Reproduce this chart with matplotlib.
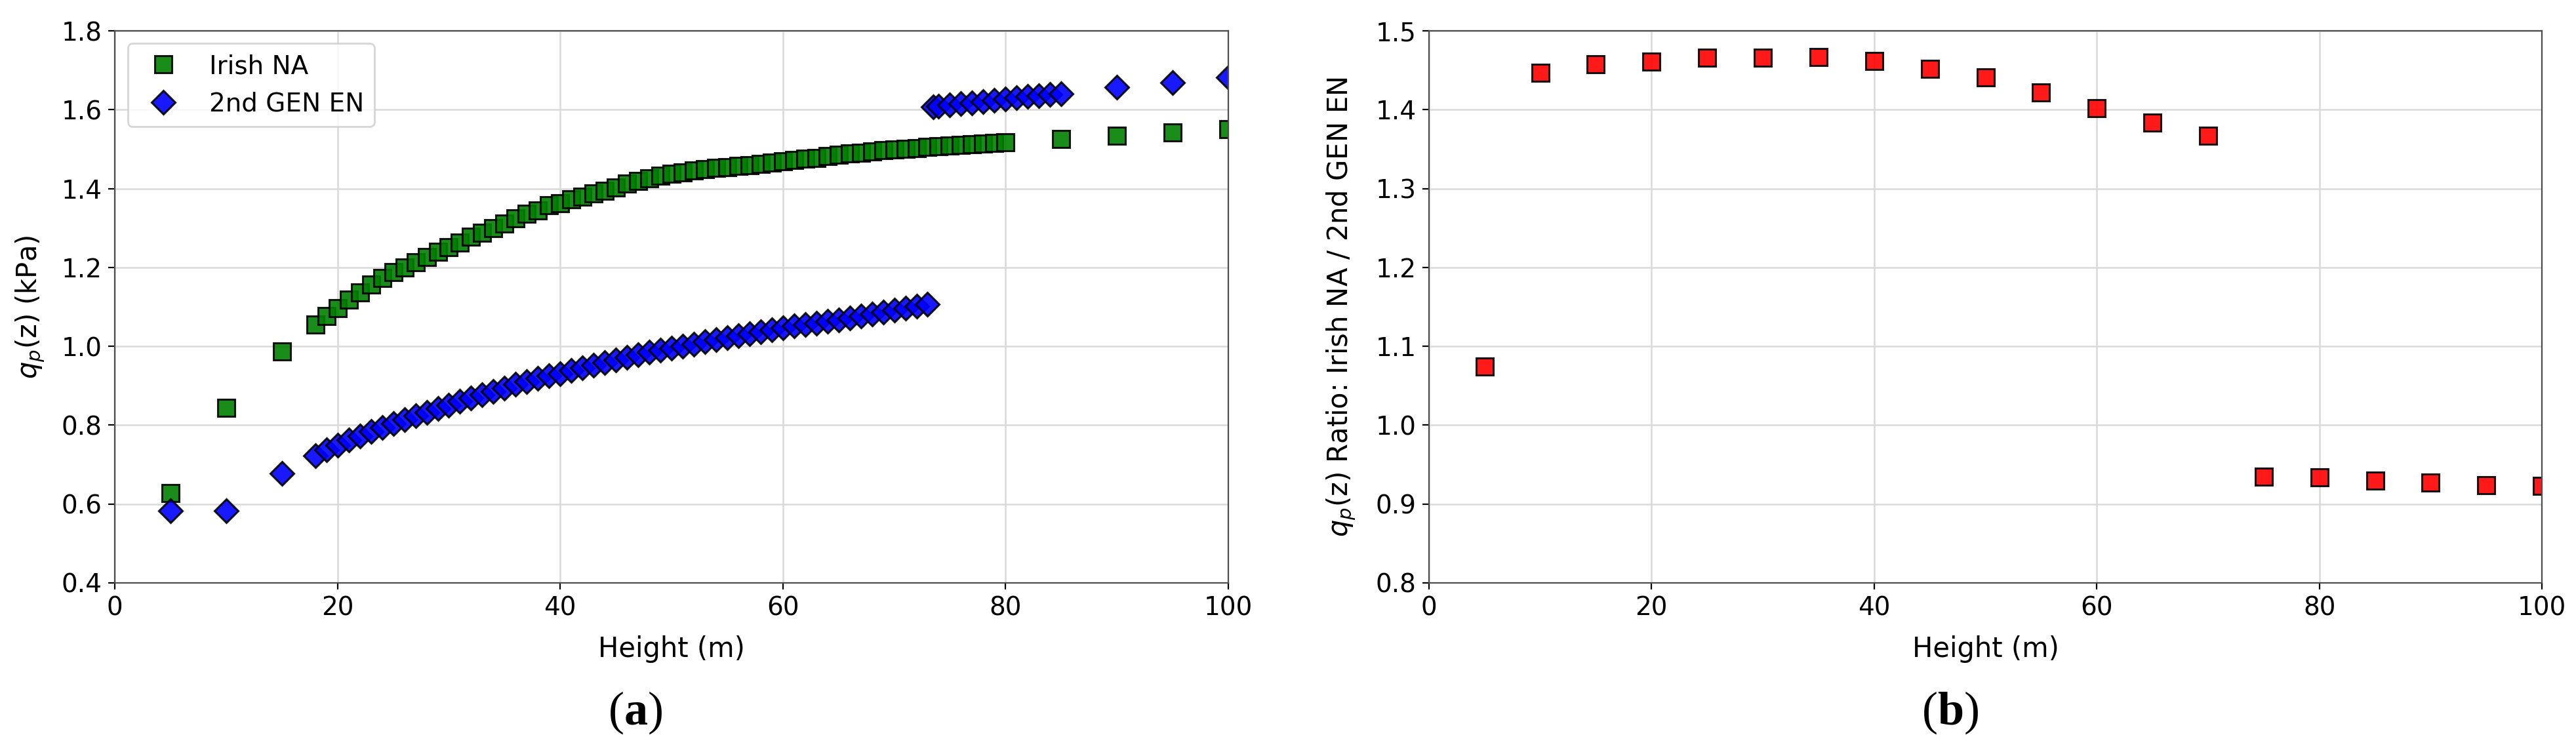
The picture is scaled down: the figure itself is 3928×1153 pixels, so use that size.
import matplotlib.pyplot as plt

# Panel (a): peak velocity pressure vs height
irish_height = [5, 10, 15,
                18, 19, 20, 21, 22, 23, 24, 25, 26, 27, 28, 29, 30, 31, 32, 33, 34, 35,
                36, 37, 38, 39, 40, 41, 42, 43, 44, 45, 46, 47, 48, 49, 50, 51, 52, 53,
                54, 55, 56, 57, 58, 59, 60, 61, 62, 63, 64, 65, 66, 67, 68, 69, 70, 71,
                72, 73, 74, 75, 76, 77, 78, 79, 80,
                85, 90, 95, 100]
irish_qp = [0.628, 0.844, 0.987,
            1.055, 1.076, 1.097, 1.118, 1.137, 1.156, 1.173, 1.188, 1.200, 1.213, 1.226,
            1.240, 1.251, 1.263, 1.278, 1.288, 1.300, 1.312, 1.325, 1.336, 1.345, 1.358,
            1.362, 1.372, 1.380, 1.388, 1.395, 1.402, 1.412, 1.420, 1.426, 1.432, 1.437,
            1.441, 1.446, 1.449, 1.452, 1.455, 1.458, 1.460, 1.463, 1.466, 1.469, 1.472,
            1.475, 1.478, 1.482, 1.486, 1.489, 1.491, 1.494, 1.497, 1.499, 1.501, 1.503,
            1.505, 1.507, 1.509, 1.511, 1.512, 1.514, 1.516, 1.518,
            1.526, 1.534, 1.542, 1.551]

gen2_height = [5, 10, 15,
               18, 19, 20, 21, 22, 23, 24, 25, 26, 27, 28, 29, 30, 31, 32, 33, 34, 35,
               36, 37, 38, 39, 40, 41, 42, 43, 44, 45, 46, 47, 48, 49, 50, 51, 52, 53,
               54, 55, 56, 57, 58, 59, 60, 61, 62, 63, 64, 65, 66, 67, 68, 69, 70, 71,
               72, 73,
               73.5, 74, 75, 76, 77, 78, 79, 80, 81, 82, 83, 84, 85,
               90, 95, 100]
gen2_qp = [0.583, 0.583, 0.678,
           0.722, 0.737, 0.749, 0.762, 0.773, 0.784, 0.794, 0.804, 0.814, 0.824, 0.833,
           0.842, 0.851, 0.860, 0.869, 0.877, 0.885, 0.894, 0.903, 0.911, 0.918, 0.925,
           0.930, 0.938, 0.945, 0.952, 0.959, 0.966, 0.972, 0.978, 0.985, 0.991, 0.996,
           1.001, 1.006, 1.012, 1.017, 1.022, 1.027, 1.031, 1.036, 1.042, 1.047, 1.051,
           1.055, 1.059, 1.063, 1.067, 1.072, 1.077, 1.082, 1.087, 1.092, 1.097, 1.102,
           1.107,
           1.607, 1.609, 1.612, 1.615, 1.617, 1.620, 1.623, 1.627, 1.630, 1.633, 1.636,
           1.638, 1.640,
           1.657, 1.669, 1.682]

# Panel (b): ratio Irish NA / 2nd GEN EN
ratio_height = [5, 10, 15, 20, 25, 30, 35, 40, 45, 50, 55, 60, 65, 70, 75, 80, 85, 90, 95, 100]
ratio_value = [1.074, 1.447, 1.458, 1.461, 1.466, 1.466, 1.467, 1.462, 1.452, 1.441,
               1.422, 1.402, 1.384, 1.367, 0.935, 0.934, 0.930, 0.927, 0.924, 0.923]

plt.rcParams["font.family"] = "DejaVu Sans"
plt.rcParams["mathtext.fontset"] = "custom"
plt.rcParams["mathtext.bf"] = "Liberation Serif:bold"
plt.rcParams["mathtext.it"] = "DejaVu Sans:italic"
plt.rcParams["mathtext.rm"] = "DejaVu Sans"

fig = plt.figure(figsize=(19.64, 5.765), dpi=200)
ax1 = fig.add_axes([0.0446, 0.2290, 0.4322, 0.7302])
ax2 = fig.add_axes([0.5547, 0.2290, 0.4321, 0.7302])

ms = 9.5
ax1.plot(irish_height, irish_qp, ls="none", marker="s", ms=ms, mfc="green",
         mec="black", mew=1.1, alpha=0.9, label="Irish NA")
ax1.plot(gen2_height, gen2_qp, ls="none", marker="D", ms=ms - 0.5, mfc="blue",
         mec="black", mew=1.1, alpha=0.9, label="2nd GEN EN")
ax1.set_xlim(0, 100)
ax1.set_ylim(0.4, 1.8)
ax1.set_xticks([0, 20, 40, 60, 80, 100])
ax1.set_yticks([0.4, 0.6, 0.8, 1.0, 1.2, 1.4, 1.6, 1.8])
ax1.set_xlabel("Height (m)", fontsize=15, labelpad=8)
ax1.set_ylabel(r"$q_p$(z) (kPa)", fontsize=15, labelpad=8)
ax1.legend(loc="upper left", fontsize=14)

ax2.plot(ratio_height, ratio_value, ls="none", marker="s", ms=ms, mfc="red",
         mec="black", mew=1.1, alpha=0.9)
ax2.set_xlim(0, 100)
ax2.set_ylim(0.8, 1.5)
ax2.set_xticks([0, 20, 40, 60, 80, 100])
ax2.set_yticks([0.8, 0.9, 1.0, 1.1, 1.2, 1.3, 1.4, 1.5])
ax2.set_xlabel("Height (m)", fontsize=15, labelpad=8)
ax2.set_ylabel(r"$q_p$(z) Ratio: Irish NA / 2nd GEN EN", fontsize=15, labelpad=10)

for ax in (ax1, ax2):
    ax.grid(True, color="0.85", lw=0.9)
    ax.set_axisbelow(True)
    ax.tick_params(labelsize=14)
    for sp in ax.spines.values():
        sp.set_color("0.3")

# panel captions in serif, letter in bold
fig.text(969 / 3928, 1 - 1087 / 1153, r"($\mathbf{a}$)", family="Liberation Serif",
         fontsize=26, ha="center", va="center")
fig.text(2974 / 3928, 1 - 1087 / 1153, r"($\mathbf{b}$)", family="Liberation Serif",
         fontsize=26, ha="center", va="center")

fig.savefig("out.png", dpi=200)
